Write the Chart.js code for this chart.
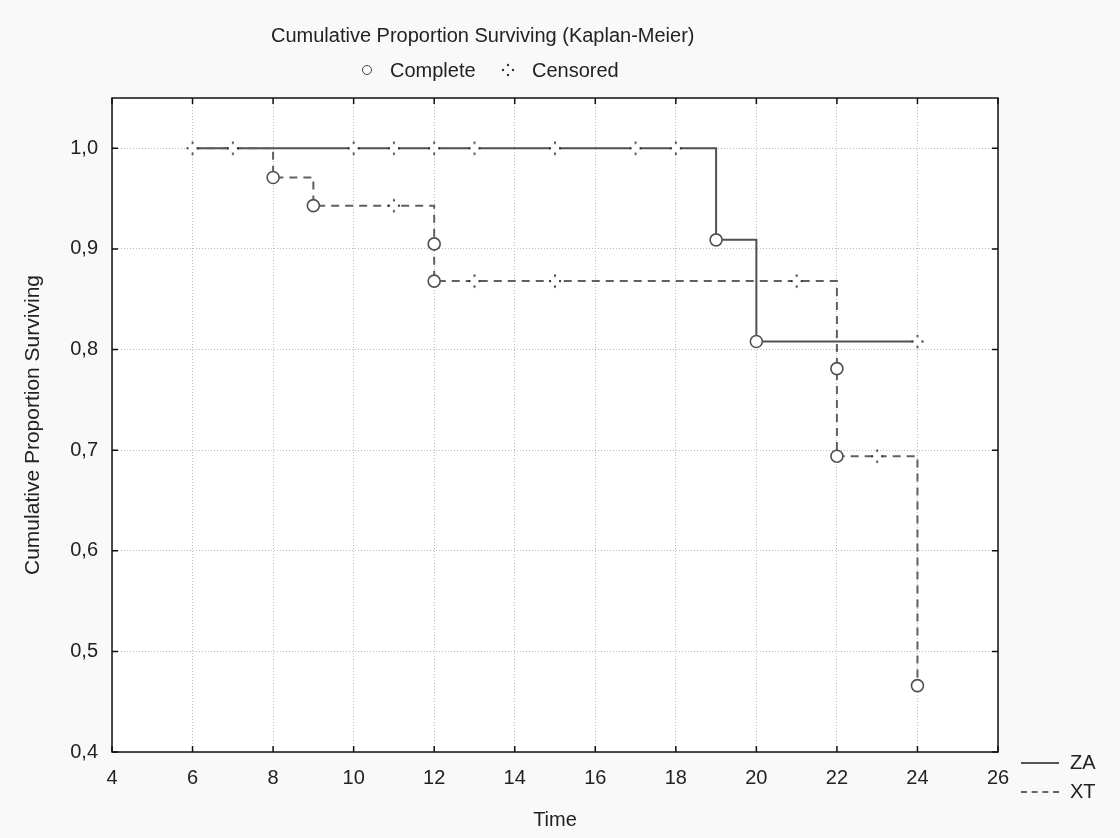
<!DOCTYPE html>
<html>
<head>
<meta charset="utf-8">
<script src="https://cdn.jsdelivr.net/npm/chart.js@4.4.1/dist/chart.umd.min.js"></script>
<style>
  html, body { margin: 0; padding: 0; background: #f9f9f9; }
  #wrap { position: relative; width: 1120px; height: 838px; font-family: "Liberation Sans", Arial, sans-serif; color: #222; }
  #chart { position: absolute; left: 0; top: 0; }
  .txt { position: absolute; font-size: 20px; white-space: nowrap; line-height: 1; }
  .sw { position: absolute; }
</style>
</head>
<body>
<div id="wrap">
  <canvas id="chart" width="1120" height="838"></canvas>

  <!-- titre + légende du haut -->
  <div class="txt" style="left:271px; top:25px;">Cumulative Proportion Surviving (Kaplan-Meier)</div>
  <div class="sw" style="left:362px; top:65px; width:8px; height:8px; border:1.5px solid #444; border-radius:50%; background:#fff;"></div>
  <div class="txt" style="left:390px; top:60px;">Complete</div>
  <svg class="sw" style="left:500px; top:62px;" width="16" height="16">
    <circle cx="8" cy="3" r="1.2" fill="#333"/><circle cx="8" cy="13" r="1.2" fill="#333"/>
    <circle cx="3" cy="8" r="1.2" fill="#333"/><circle cx="13" cy="8" r="1.2" fill="#333"/>
  </svg>
  <div class="txt" style="left:532px; top:60px;">Censored</div>

  <!-- légende des groupes, en bas à droite -->
  <div class="sw" style="left:1021px; top:762px; width:38px; border-top:2px solid #555;"></div>
  <div class="txt" style="left:1070px; top:752px;">ZA</div>
  <div class="sw" style="left:1021px; top:791px; width:38px; border-top:2px dashed #666;"></div>
  <div class="txt" style="left:1070px; top:781px;">XT</div>
</div>

<script>
// Courbe ZA (ligne continue) : temps et survie aux sauts
const zaTimes = [6, 19, 20, 24];
const zaSurv  = [1.0, 0.909, 0.808, 0.808];
// Courbe XT (ligne pointillée)
const xtTimes = [6, 8, 9, 12, 12, 22, 22, 24];
const xtSurv  = [1.0, 0.971, 0.943, 0.905, 0.868, 0.781, 0.694, 0.466];

// Événements complets (cercles)
const zaCompleteT = [19, 20];
const zaCompleteS = [0.909, 0.808];
const xtCompleteT = [8, 9, 12, 12, 22, 22, 24];
const xtCompleteS = [0.971, 0.943, 0.905, 0.868, 0.781, 0.694, 0.466];

// Observations censurées
const zaCensT = [6, 7, 10, 11, 12, 13, 15, 17, 18, 24];
const zaCensS = [1.0, 1.0, 1.0, 1.0, 1.0, 1.0, 1.0, 1.0, 1.0, 0.808];
const xtCensT = [11, 13, 15, 21, 23];
const xtCensS = [0.943, 0.868, 0.868, 0.868, 0.694];

// Axes
const xMin = 4, xMax = 26, xStep = 2;
const yMin = 0.4, yMax = 1.05, yTicks = [0.4, 0.5, 0.6, 0.7, 0.8, 0.9, 1.0];

const pts = (t, s) => t.map((v, i) => ({ x: v, y: s[i] }));

// symbole "censuré" : petit trou blanc + 4 points
function censoredMark() {
  const c = document.createElement('canvas');
  c.width = 16; c.height = 16;
  const g = c.getContext('2d');
  g.fillStyle = '#fff';
  g.fillRect(3.5, 5, 9, 6);
  g.fillStyle = '#333';
  g.fillRect(7, 1.5, 2, 2);
  g.fillRect(7, 12.5, 2, 2);
  g.fillRect(2, 7, 2, 2);
  g.fillRect(12, 7, 2, 2);
  return c;
}
const censImg = censoredMark();

const FONT = { family: '"Liberation Sans", Arial, sans-serif', size: 20 };

// fond blanc de la zone de tracé
const plotBg = {
  id: 'plotBg',
  beforeDraw(chart) {
    const { ctx, chartArea: a } = chart;
    ctx.save();
    ctx.fillStyle = '#fff';
    ctx.fillRect(a.left, a.top, a.right - a.left, a.bottom - a.top);
    ctx.restore();
  }
};

// cadre noir + graduations intérieures sur les 4 côtés
const frame = {
  id: 'frame',
  afterDraw(chart) {
    const { ctx, chartArea: a, scales } = chart;
    const len = 6;
    ctx.save();
    ctx.strokeStyle = '#111';
    ctx.lineWidth = 1.5;
    ctx.strokeRect(a.left, a.top, a.right - a.left, a.bottom - a.top);
    ctx.beginPath();
    scales.x.ticks.forEach(t => {
      const px = scales.x.getPixelForValue(t.value);
      ctx.moveTo(px, a.bottom); ctx.lineTo(px, a.bottom - len);
      ctx.moveTo(px, a.top); ctx.lineTo(px, a.top + len);
    });
    scales.y.ticks.forEach(t => {
      const py = scales.y.getPixelForValue(t.value);
      ctx.moveTo(a.left, py); ctx.lineTo(a.left + len, py);
      ctx.moveTo(a.right, py); ctx.lineTo(a.right - len, py);
    });
    ctx.stroke();
    ctx.restore();
  }
};

new Chart(document.getElementById('chart'), {
  type: 'line',
  data: {
    datasets: [
      { label: 'ZA', data: pts(zaTimes, zaSurv), stepped: 'before', borderColor: '#505050', borderWidth: 2, pointRadius: 0, fill: false, order: 3 },
      { label: 'XT', data: pts(xtTimes, xtSurv), stepped: 'before', borderColor: '#606060', borderWidth: 2, borderDash: [8, 6], pointRadius: 0, fill: false, order: 2 },
      { label: 'Censored ZA', data: pts(zaCensT, zaCensS), showLine: false, pointStyle: censImg, pointRadius: 8, order: 1 },
      { label: 'Censored XT', data: pts(xtCensT, xtCensS), showLine: false, pointStyle: censImg, pointRadius: 8, order: 1 },
      { label: 'Complete ZA', data: pts(zaCompleteT, zaCompleteS), showLine: false, pointStyle: 'circle', pointRadius: 6,
        pointBackgroundColor: '#fff', pointBorderColor: '#505050', pointBorderWidth: 1.6, order: 0 },
      { label: 'Complete XT', data: pts(xtCompleteT, xtCompleteS), showLine: false, pointStyle: 'circle', pointRadius: 6,
        pointBackgroundColor: '#fff', pointBorderColor: '#505050', pointBorderWidth: 1.6, order: 0 }
    ]
  },
  options: {
    responsive: false,
    animation: false,
    layout: { padding: { left: 0, right: 122, top: 98, bottom: 0 } },
    plugins: { legend: { display: false }, tooltip: { enabled: false } },
    scales: {
      x: {
        type: 'linear', min: xMin, max: xMax,
        ticks: { stepSize: xStep, color: '#222', font: FONT, padding: 14, maxRotation: 0 },
        grid: { color: '#bbb', drawTicks: false, lineWidth: 1 },
        border: { display: false, dash: [1, 2] },
        title: { display: true, text: 'Time', color: '#222', font: FONT, padding: { top: 0, bottom: 6 } },
        afterFit(s) { s.height = 86; }
      },
      y: {
        type: 'linear', min: yMin, max: yMax,
        afterBuildTicks(s) { s.ticks = yTicks.map(v => ({ value: v })); },
        ticks: { color: '#222', font: FONT, padding: 14, callback: v => v.toFixed(1).replace('.', ',') },
        grid: { color: '#bbb', drawTicks: false, lineWidth: 1 },
        border: { display: false, dash: [1, 2] },
        title: { display: true, text: 'Cumulative Proportion Surviving', color: '#222',
                 font: { family: FONT.family, size: 21 }, padding: { top: 21, bottom: 0 } },
        afterFit(s) { s.width = 112; }
      }
    }
  },
  plugins: [plotBg, frame]
});
</script>
</body>
</html>
